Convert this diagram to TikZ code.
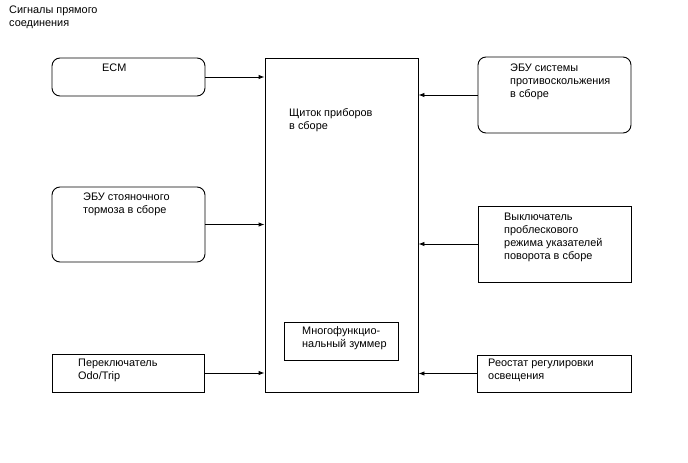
\documentclass[tikz,border=0pt]{standalone}
\usepackage{fontspec}
\setmainfont{Liberation Sans}
\usetikzlibrary{arrows.meta,positioning}
\tikzset{
  blk/.style={draw, line width=0.9pt, inner sep=0pt},
  rblk/.style={blk, rounded corners=8pt},
  txt/.style={font=\fontsize{10.9}{13}\selectfont, align=left, inner sep=0pt, anchor=north west},
  ar/.style={-{Latex[length=6pt,width=4.5pt]}, line width=0.9pt},
}

\begin{document}
\begin{tikzpicture}[x=1pt, y=-1pt]
  \useasboundingbox (0,0) rectangle (688,463);
  \node[txt] (title) at (9,5.5) {Сигналы прямого\\соединения};
  % blocks
  \node[blk, minimum width=153pt, minimum height=334pt] (panel) at (341.5,225) {};
  \node[blk, minimum width=114pt, minimum height=38pt] (buzz) at (341,341) {};
  \node[rblk, minimum width=153pt, minimum height=38pt] (ecm) at (128.5,77) {};
  \node[rblk, minimum width=153pt, minimum height=75pt] (epb) at (128.5,224.5) {};
  \node[blk, minimum width=152pt, minimum height=38pt] (odo) at (128.5,373) {};
  \node[rblk, minimum width=153pt, minimum height=76pt] (vsc) at (554.5,95) {};
  \node[blk, minimum width=153pt, minimum height=76pt] (hazard) at (554.5,244) {};
  \node[blk, minimum width=154pt, minimum height=37pt] (rheo) at (554,373.5) {};
  % texts
  \node[txt] (paneltxt) at (289,108) {Щиток приборов\\в сборе};
  \node[txt] (buzztxt) at (302,326) {Многофункцио-\\нальный зуммер};
  \node[txt] (ecmtxt) at (102,64) {ECM};
  \node[txt] (epbtxt) at (83,192.5) {ЭБУ стояночного\\тормоза в сборе};
  \node[txt] (odotxt) at (78,359) {Переключатель\\Odo/Trip};
  \node[txt] (vsctxt) at (510,64) {ЭБУ системы\\противоскольжения\\в сборе};
  \node[txt] (hazardtxt) at (504,213) {Выключатель\\проблескового\\режима указателей\\поворота в сборе};
  \node[txt] (rheotxt) at (488,359) {Реостат регулировки\\освещения};
  % signals
  \draw[ar] (ecm.east) -- (ecm.east -| panel.west);
  \draw[ar] (epb.east) -- (epb.east -| panel.west);
  \draw[ar] (odo.east) -- (odo.east -| panel.west);
  \draw[ar] (vsc.west) -- (vsc.west -| panel.east);
  \draw[ar] (hazard.west) -- (hazard.west -| panel.east);
  \draw[ar] (rheo.west) -- (rheo.west -| panel.east);
\end{tikzpicture}
\end{document}
